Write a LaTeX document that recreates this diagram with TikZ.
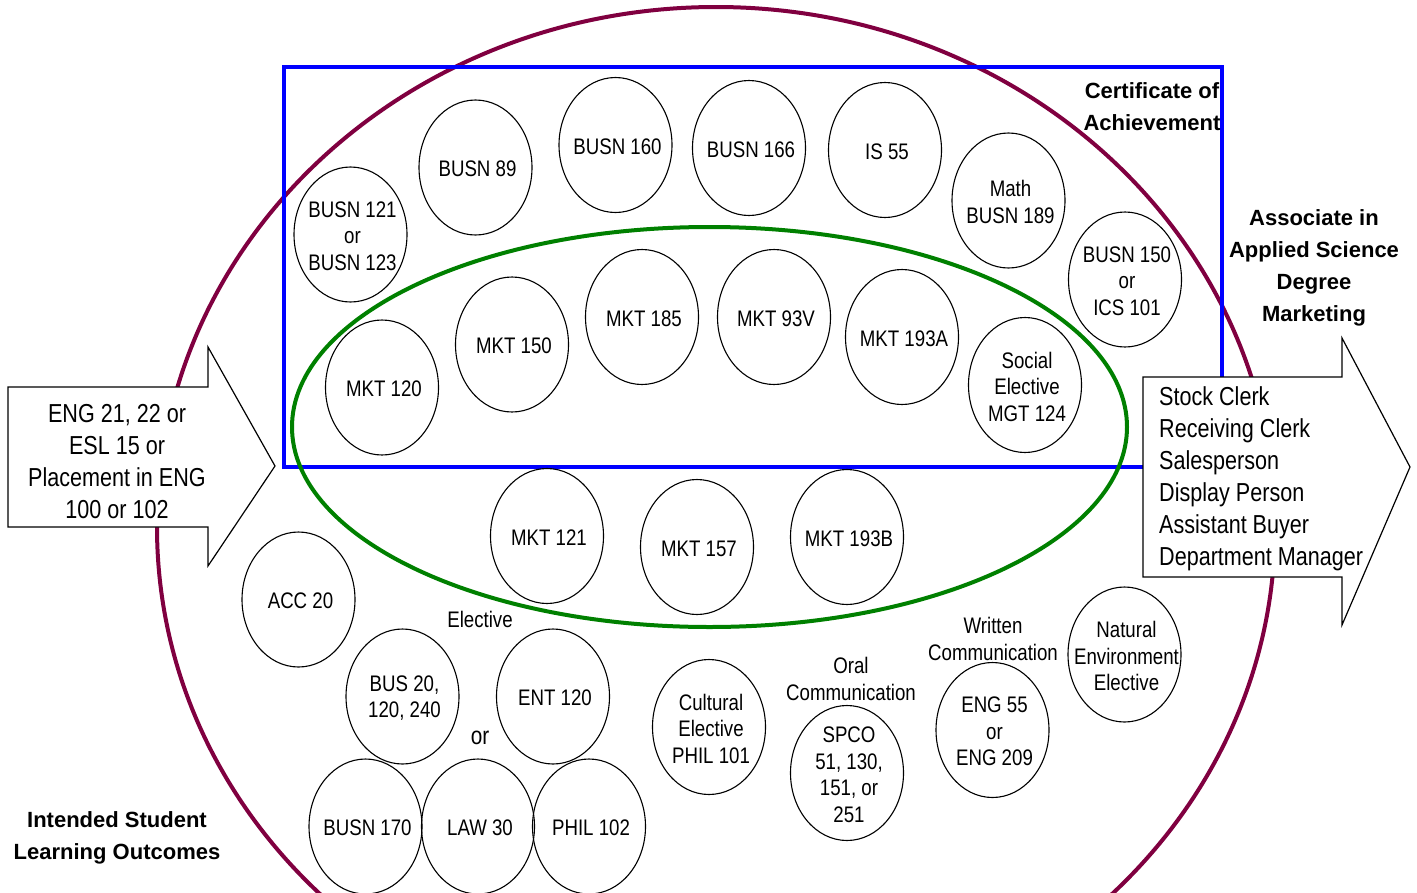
\documentclass[tikz,border=0pt]{standalone}
\usepackage{fontspec}
\setmainfont{Liberation Sans}[FakeStretch=0.83]
\newfontfamily\boldwide{Liberation Sans}
\usetikzlibrary{shapes.geometric}
\definecolor{maroonc}{RGB}{128,0,64}
\definecolor{bluec}{RGB}{0,0,255}
\definecolor{greenc}{RGB}{0,128,0}
\newcommand{\course}[3]{\node[crs,label={[ctx,xshift=2pt,yshift=-1.5pt]center:{#3}}] (#1) at (#2) {};}
\begin{document}
\begin{tikzpicture}[x=1pt,y=-1pt,
  crs/.style={draw, ellipse, line width=1.1pt, minimum width=113pt, minimum height=135pt, inner sep=0pt},
  ctx/.style={font=\fontsize{22.5pt}{26.5pt}\selectfont, align=center, inner sep=0pt},
  atx/.style={font=\fontsize{26pt}{32pt}\selectfont, inner sep=0pt},
  btx/.style={font=\boldwide\bfseries\fontsize{22pt}{32pt}\selectfont, align=center, inner sep=0pt},
  arr/.style={draw=black, fill=white, line width=1.2pt, line join=miter},
  outer/.style={draw=maroonc, line width=4pt},
  cert/.style={draw=bluec, line width=4pt},
  core/.style={draw=greenc, line width=4pt}]
\useasboundingbox (0,0) rectangle (1417,892);
% outer ellipse
\draw[outer] (716,527) ellipse [x radius=559pt, y radius=520pt];
% certificate rectangle
\draw[cert] (284,67) rectangle (1222,467);
% core ellipse
\draw[core] (709.5,427) ellipse [x radius=417.5pt, y radius=200pt];
% arrows
\draw[arr] (8,387) -- (208,387) -- (208,347) -- (275,466) -- (208,566) -- (208,527) -- (8,527) -- cycle;
\draw[arr] (1143,377) -- (1342,377) -- (1342,338) -- (1410,467) -- (1342,625) -- (1342,577) -- (1143,577) -- cycle;
\node[atx, align=center] (entry) at (117,462) {ENG 21, 22 or\\ESL 15 or\\Placement in ENG\\100 or 102};
\node[atx, align=left, anchor=west] (jobs) at (1159,478.5) {Stock Clerk\\Receiving Clerk\\Salesperson\\Display Person\\Assistant Buyer\\Department Manager};
% courses
\course{b121}{350.5,234.5}{BUSN 121\\or\\BUSN 123}
\course{b89}{475.5,167.5}{BUSN 89}
\course{b160}{615.5,145}{BUSN 160}
\course{b166}{749,148}{BUSN 166}
\course{is55}{885,150}{IS 55}
\course{b189}{1008.5,200.5}{Math\\BUSN 189}
\course{b150}{1125,279.5}{BUSN 150\\or\\ICS 101}
\course{m120}{382,387.5}{MKT 120}
\course{m150}{512,344.5}{MKT 150}
\course{m185}{642,317}{MKT 185}
\course{m93v}{774,317}{MKT 93V}
\course{m193a}{902,337}{MKT 193A}
\course{social}{1025,385}{Social\\Elective\\MGT 124}
\course{m121}{547,536}{MKT 121}
\course{m157}{697,547}{MKT 157}
\course{m193b}{847,537}{MKT 193B}
\course{acc20}{298.5,599.5}{ACC 20}
\course{bus20}{402.5,696.5}{BUS 20,\\120, 240}
\course{ent120}{553,696.5}{ENT 120}
\course{b170}{365.5,826.5}{BUSN 170}
\course{law30}{478,826.5}{LAW 30}
\course{phil102}{589,826.5}{PHIL 102}
\course{cult}{709,727}{Cultural\\Elective\\PHIL 101}
\course{spco}{847,773}{SPCO\\51, 130,\\151, or\\251}
\course{eng55}{992.5,730}{ENG 55\\or\\ENG 209}
\course{natural}{1124.5,654.5}{Natural\\Environment\\Elective}
% free labels
\node[ctx] (elective) at (480,619) {Elective};
\node[ctx, font=\fontsize{25pt}{30pt}\selectfont] (orlbl) at (480,738) {or};
\node[ctx] (oral) at (851,679) {Oral\\Communication};
\node[ctx] (written) at (993,639) {Written\\Communication};
\node[btx] (certlbl) at (1152,107) {Certificate of\\Achievement};
\node[btx] (aas) at (1314,268) {Associate in\\Applied Science\\Degree\\Marketing};
\node[btx] (islo) at (117,838) {Intended Student\\Learning Outcomes};
\end{tikzpicture}
\end{document}
